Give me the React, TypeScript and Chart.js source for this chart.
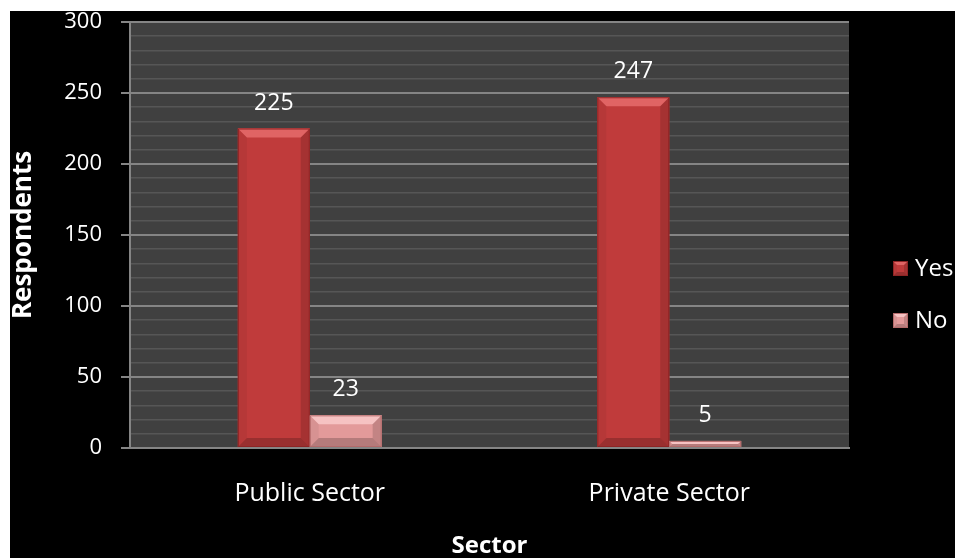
import React, { useEffect, useRef } from 'react';
import { Chart, registerables } from 'chart.js';

Chart.register(...registerables);

const categories = ['Public Sector', 'Private Sector'];
const seriesNames = ['Yes', 'No'];
const yesValues = [225, 247];
const noValues = [23, 5];
const yAxisMax = 300;
const yMajorStep = 50;
const yMinorStep = 10;
const xTitle = 'Sector';
const yTitle = 'Respondents';

const FONT = "'Open Sans', sans-serif";

const palettes = [
  { face: '#c03b3b', light: '#e06464', edge: '#8e2525' },
  { face: '#e39a9a', light: '#f6c2c2', edge: '#b46a6a' },
];

function poly(ctx: CanvasRenderingContext2D, pts: number[][], fill: string) {
  ctx.beginPath();
  ctx.moveTo(pts[0][0], pts[0][1]);
  for (let i = 1; i < pts.length; i++) ctx.lineTo(pts[i][0], pts[i][1]);
  ctx.closePath();
  ctx.fillStyle = fill;
  ctx.fill();
}

function bevel(ctx: CanvasRenderingContext2D, l: number, t: number, r: number, b: number, pal: any, dmax: number) {
  const w = r - l;
  const h = b - t;
  if (w <= 0 || h <= 0) return;
  const d = Math.max(0, Math.min(dmax, h / 2, w / 2));
  ctx.save();
  ctx.fillStyle = pal.face;
  ctx.fillRect(l, t, w, h);
  poly(ctx, [[l, t], [r, t], [r - d, t + d], [l + d, t + d]], pal.light);
  poly(ctx, [[l, t], [l + d, t + d], [l + d, b - d], [l, b]], 'rgba(0,0,0,0.05)');
  poly(ctx, [[r, t], [r, b], [r - d, b - d], [r - d, t + d]], 'rgba(0,0,0,0.14)');
  poly(ctx, [[l, b], [l + d, b - d], [r - d, b - d], [r, b]], 'rgba(0,0,0,0.2)');
  ctx.strokeStyle = pal.edge;
  ctx.lineWidth = 1;
  ctx.strokeRect(l + 0.5, t + 0.5, w - 1, h - 1);
  ctx.restore();
}

const decorPlugin = {
  id: 'decor',
  beforeDraw(chart: any) {
    const { ctx, chartArea } = chart;
    ctx.save();
    ctx.fillStyle = '#000';
    ctx.fillRect(0, 0, chart.width, chart.height);
    ctx.fillStyle = '#404040';
    ctx.fillRect(chartArea.left, chartArea.top, chartArea.right - chartArea.left, chartArea.bottom - chartArea.top);
    ctx.restore();
  },
  afterDatasetsDraw(chart: any) {
    const { ctx } = chart;
    chart.data.datasets.forEach((ds: any, i: number) => {
      const meta = chart.getDatasetMeta(i);
      meta.data.forEach((bar: any, j: number) => {
        const { x, y, base, width } = bar.getProps(['x', 'y', 'base', 'width'], true);
        bevel(ctx, x - width / 2, y, x + width / 2, base, palettes[i], 9);
        ctx.save();
        ctx.fillStyle = '#ffffff';
        ctx.font = `23px ${FONT}`;
        ctx.textAlign = 'center';
        ctx.textBaseline = 'alphabetic';
        ctx.fillText(String(ds.data[j]), x, y - 19);
        ctx.restore();
      });
    });
  },
  afterDraw(chart: any) {
    const { ctx } = chart;
    const boxX = 883;
    const firstBoxTop = 250;
    const spacing = 52;
    chart.data.datasets.forEach((ds: any, i: number) => {
      const top = firstBoxTop + i * spacing;
      bevel(ctx, boxX, top, boxX + 15, top + 15, palettes[i], 4);
      ctx.save();
      ctx.fillStyle = '#ffffff';
      ctx.font = `24px ${FONT}`;
      ctx.textAlign = 'left';
      ctx.textBaseline = 'alphabetic';
      ctx.fillText(ds.label, boxX + 22, top + 15);
      ctx.restore();
    });
  },
};

export default function App() {
  const canvasRef = useRef<HTMLCanvasElement | null>(null);

  useEffect(() => {
    const canvas = canvasRef.current;
    if (!canvas) return;
    const isMajor = (c: any) => c.tick && c.tick.value % yMajorStep === 0;
    const chart = new Chart(canvas, {
      type: 'bar',
      data: {
        labels: categories,
        datasets: [
          { label: seriesNames[0], data: yesValues, backgroundColor: palettes[0].face, borderWidth: 0 },
          { label: seriesNames[1], data: noValues, backgroundColor: palettes[1].face, borderWidth: 0 },
        ],
      },
      options: {
        responsive: false,
        animation: false,
        devicePixelRatio: 1,
        layout: { padding: { top: 11, right: 106, bottom: 0, left: 0 } },
        datasets: { bar: { categoryPercentage: 0.4, barPercentage: 1.0 } },
        plugins: {
          legend: { display: false },
          tooltip: { enabled: false },
        },
        scales: {
          x: {
            afterFit: (s: any) => { s.height = 110; s.paddingLeft = 0; s.paddingRight = 0; },
            grid: { display: false, drawTicks: false },
            border: { display: true, color: '#858585', width: 2 },
            ticks: { color: '#ffffff', font: { family: FONT, size: 25 }, padding: 31, maxRotation: 0 },
            title: {
              display: true, text: xTitle, color: '#ffffff',
              font: { family: FONT, size: 24, weight: 'bold', lineHeight: 1 },
              padding: { top: 0, bottom: 0 },
            },
          },
          y: {
            min: 0,
            max: yAxisMax,
            afterFit: (s: any) => { s.width = 120; s.paddingTop = 0; s.paddingBottom = 0; },
            ticks: {
              stepSize: yMinorStep,
              autoSkip: false,
              color: '#ffffff',
              font: { family: FONT, size: 22, lineHeight: 1 },
              padding: 19,
              callback: (v: any) => (Number(v) % yMajorStep === 0 ? String(v) : ''),
            },
            grid: {
              color: (c: any) => (isMajor(c) ? '#858585' : '#565656'),
              lineWidth: (c: any) => (isMajor(c) ? 2 : 1.5),
              tickColor: (c: any) => (isMajor(c) ? '#858585' : 'rgba(0,0,0,0)'),
              tickLength: 9,
              drawTicks: true,
            },
            border: { display: true, color: '#858585', width: 2 },
            title: {
              display: true, text: yTitle, color: '#ffffff',
              font: { family: FONT, size: 26, weight: 'bold', lineHeight: 1 },
              padding: { top: 1, bottom: 0 },
            },
          },
        },
      },
      plugins: [decorPlugin],
    });
    return () => chart.destroy();
  }, []);

  return (
    <div style={{ position: 'fixed', left: 10, top: 11, width: 945, height: 547, background: '#000', overflow: 'hidden' }}>
      <canvas ref={canvasRef} width={945} height={547} style={{ display: 'block' }} />
    </div>
  );
}
